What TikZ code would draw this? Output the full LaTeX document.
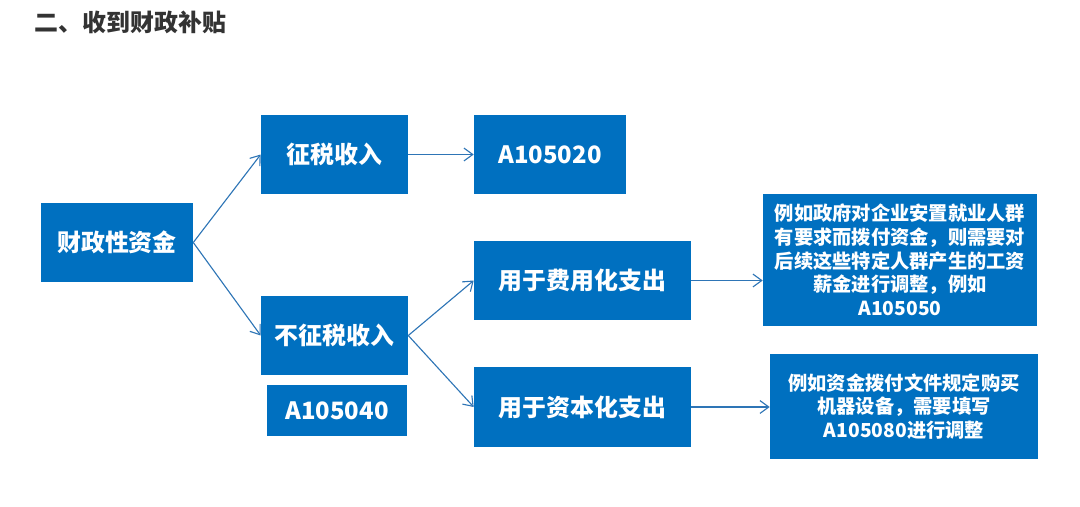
\documentclass[tikz,border=0pt]{standalone}
\usepackage{fontspec}
\usepackage{tikz}
\usetikzlibrary{arrows.meta, positioning}
\setmainfont{Noto Sans CJK SC}
\definecolor{boxblue}{RGB}{0, 112, 192}
\definecolor{arrowblue}{RGB}{46, 117, 182}
\definecolor{titlegray}{RGB}{51, 51, 51}

\begin{document}
\begin{tikzpicture}[
    x=0.025cm, y=-0.025cm,
    block/.style={
        fill=boxblue,
        text=white,
        align=center,
        inner sep=0pt,
        minimum height=79*0.025cm,
        font=\fontsize{17}{20}\selectfont\bfseries
    },
    note/.style={block, font=\fontsize{13.7}{16.8}\selectfont\bfseries},
    flow/.style={-{Straight Barb[length=2.2mm, width=3.2mm]}, draw=arrowblue, line width=0.8pt}
]
\useasboundingbox (0,0) rectangle (1080,507);

\node[anchor=west, text=titlegray, font=\fontsize{17}{20}\selectfont\bfseries] (title) at (30,22) {二、收到财政补贴};

\node[block, minimum width=152*0.025cm] (fund) at (117,242.5) {财政性资金};

\node[block, minimum width=147*0.025cm] (taxable) at (334.5,154.5) {征税收入};
\node[block, minimum width=152*0.025cm] (codeA) at (550,154.5) {A105020};

\node[block, minimum width=147*0.025cm] (nontax) at (334.5,335.5) {不征税收入};
\node[block, minimum width=140*0.025cm, minimum height=51*0.025cm] (codeB) at (337,410.5) {A105040};

\node[block, minimum width=217*0.025cm] (expense) at (582.5,280.5) {用于费用化支出};
\node[block, minimum width=217*0.025cm, minimum height=80*0.025cm] (capital) at (582.5,407) {用于资本化支出};

\node[note, minimum width=274*0.025cm, minimum height=132*0.025cm] (noteA) at (900,260)
{例如政府对企业安置就业人群\\有要求而拨付资金，则需要对\\后续这些特定人群产生的工资\\薪金进行调整，例如\\A105050};

\node[note, minimum width=268*0.025cm, minimum height=105*0.025cm] (noteB) at (904,406.5)
{例如资金拨付文件规定购买\\机器设备，需要填写\\A105080进行调整};

\draw[flow] (fund.east) -- (taxable.west);
\draw[flow] (fund.east) -- (nontax.west);
\draw[flow] (taxable.east) -- (codeA.west);
\draw[flow] (nontax.east) -- (expense.west);
\draw[flow] (nontax.east) -- (capital.west);
\draw[flow] (expense.east) -- (expense.east -| noteA.west);
\draw[flow] (capital.east) -- (capital.east -| noteB.west);

\end{tikzpicture}
\end{document}
